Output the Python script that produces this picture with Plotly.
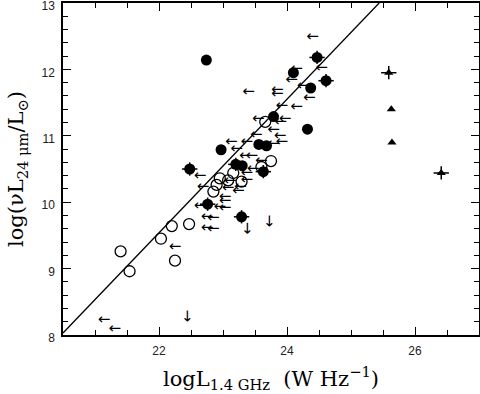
import plotly.graph_objects as go

# --- data ---
# filled circles with error crosses
fe_x = [24.47, 24.61, 22.48, 23.63, 22.76, 23.29, 23.20]
fe_y = [12.18, 11.83, 10.50, 10.46, 9.97, 9.78, 10.57]
# filled circles, no error bars
f_x = [22.74, 24.10, 24.37, 23.79, 24.32, 23.56, 23.68, 22.97, 23.30]
f_y = [12.14, 11.95, 11.72, 11.29, 11.10, 10.87, 10.85, 10.79, 10.55]
# open circles
o_x = [21.40, 21.54, 22.03, 22.20, 22.47, 22.25, 23.66, 23.75, 23.60, 23.29,
       22.95, 22.90, 22.85, 23.16, 23.08]
o_y = [9.26, 8.96, 9.45, 9.64, 9.67, 9.12, 11.21, 10.62, 10.53, 10.31,
       10.36, 10.26, 10.16, 10.44, 10.33]
# upper limits in radio (left arrows)
la_x = [24.40, 24.54, 24.07, 24.25, 24.35, 23.40, 23.85, 23.85, 23.92, 24.15,
        23.55, 23.97, 23.90, 23.79, 23.89, 23.52, 23.37, 23.13, 23.79, 23.92,
        23.60, 23.47, 23.35, 23.45, 23.21, 23.37, 23.37, 23.27, 23.24, 23.11,
        23.08, 23.03, 23.03, 23.03, 22.64, 22.95, 22.75, 22.85, 22.75, 22.85,
        22.69, 22.64, 22.25, 21.14, 21.31, 24.15]
la_y = [12.48, 12.01, 11.84, 11.75, 11.56, 11.66, 11.68, 11.62, 11.45, 11.43,
        11.25, 11.25, 11.21, 11.08, 11.00, 11.01, 10.90, 10.90, 10.88, 10.90,
        10.61, 10.50, 10.69, 10.69, 10.79, 10.44, 10.33, 10.23, 10.16, 10.31,
        10.21, 10.08, 10.01, 9.91, 9.94, 9.93, 9.78, 9.76, 9.61, 9.59,
        10.23, 10.39, 9.32, 8.22, 8.09, 12.00]
# upper limits in 24 micron (down arrows)
da_x = [22.44, 23.37, 23.72]
da_y = [8.28, 9.61, 9.71]
# triangles
t_x = [25.63, 25.64]
t_y = [11.40, 10.90]
te_x = [25.59, 26.41]
te_y = [11.95, 10.44]
# correlation line
fit_x = [20.5, 25.44]
fit_y = [8.03, 13.0]

fig = go.Figure()
fig.add_trace(go.Scatter(x=fit_x, y=fit_y, mode="lines",
                         line=dict(color="black", width=1.3)))
fig.add_trace(go.Scatter(x=la_x, y=la_y, mode="text", text=["←"] * len(la_x),
                         textfont=dict(family="DejaVu Sans", size=15, color="black")))
# down arrows: a rotated left arrow so it matches the others
for x, y in zip(da_x, da_y):
    fig.add_annotation(x=x, y=y, text="←", textangle=-90, showarrow=False,
                       font=dict(family="DejaVu Sans", size=15, color="black"))
fig.add_trace(go.Scatter(x=o_x, y=o_y, mode="markers",
                         marker=dict(symbol="circle-open", size=11, color="black",
                                     line=dict(width=1.3))))
fig.add_trace(go.Scatter(x=fe_x, y=fe_y, mode="markers",
                         error_x=dict(type="constant", value=0.12, color="black", width=0, thickness=1.5),
                         error_y=dict(type="constant", value=0.1, color="black", width=0, thickness=1.5),
                         marker=dict(symbol="circle", size=11, color="black")))
fig.add_trace(go.Scatter(x=f_x, y=f_y, mode="markers",
                         marker=dict(symbol="circle", size=11, color="black")))
fig.add_trace(go.Scatter(x=t_x, y=t_y, mode="markers",
                         marker=dict(symbol="triangle-up", size=8, color="black")))
fig.add_trace(go.Scatter(x=te_x, y=te_y, mode="markers",
                         error_x=dict(type="constant", value=0.12, color="black", width=0, thickness=1.5),
                         error_y=dict(type="constant", value=0.1, color="black", width=0, thickness=1.5),
                         marker=dict(symbol="triangle-up", size=8, color="black")))

axis_common = dict(showline=True, linecolor="black", linewidth=1.5, mirror="ticks",
                   ticks="inside", ticklen=8, tickcolor="black", tickwidth=1.2,
                   showgrid=False, zeroline=False, automargin=False,
                   ticklabeloverflow="allow",
                   tickfont=dict(family="Liberation Sans, Arial", size=12, color="#222"))

fig.update_xaxes(range=[20.5, 27.0], tick0=22, dtick=2, ticklabelstandoff=4,
                 minor=dict(dtick=0.5, ticks="inside", ticklen=5, tickcolor="black", tickwidth=1.2),
                 title=dict(text="logL<sub>1.4 GHz</sub>  (W Hz<sup>−1</sup>)", standoff=14,
                            font=dict(family="DejaVu Serif", size=21, color="black")),
                 **axis_common)
fig.update_yaxes(range=[8, 13], tick0=8, dtick=1, ticklabelstandoff=4, ticklabelshift=3,
                 minor=dict(dtick=0.2, ticks="inside", ticklen=5, tickcolor="black", tickwidth=1.2),
                 title=dict(text="log(νL<sub>24 μm</sub>/L<sub>⊙</sub>)", standoff=12,
                            font=dict(family="DejaVu Serif", size=21, color="black")),
                 **axis_common)

fig.update_layout(width=480, height=394, showlegend=False,
                  margin=dict(l=63, r=1, t=3, b=59),
                  plot_bgcolor="white", paper_bgcolor="white")

fig.write_html("out.html", config={"displayModeBar": False},
               post_script="document.body.style.margin='0';")
